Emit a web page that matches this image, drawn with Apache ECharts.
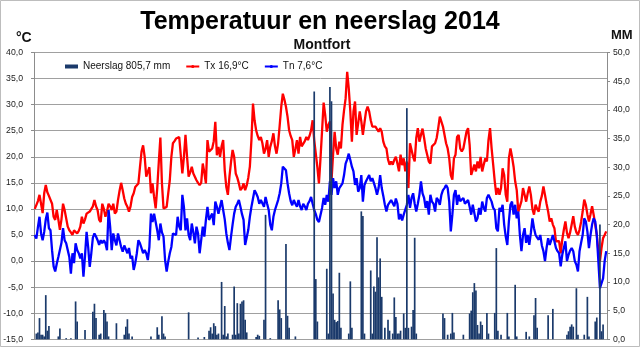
<!DOCTYPE html>
<html><head><meta charset="utf-8">
<script src="https://cdn.jsdelivr.net/npm/echarts@6/dist/echarts.min.js"></script>
<style>html,body{margin:0;padding:0;background:#fff}#c{width:640px;height:347px}</style>
</head><body><div id="c"></div>
<script>
// Daily maximum temperature (°C), per month
const txJan=[10.0,10.2,11.5,12.7,11.0,9.2,13.0,14.6,13.2,12.5,12.3,11.0,8.5,7.9,9.8,8.0,6.0,8.0,11.0,9.8,9.5,6.6,5.9,5.5,5.0,5.9,6.0,5.3,5.8,6.6,8.5];
const txFeb=[7.2,8.0,9.1,8.8,9.5,9.8,10.5,11.7,10.5,9.8,7.9,7.5,11.0,10.0,8.5,9.5,11.0,10.5,9.8,11.0,9.1,9.5,11.7,13.5,15.0,13.6,12.0,11.0];
const txMar=[10.4,9.5,10.5,12.3,13.0,14.2,14.5,14.9,18.0,21.0,22.2,20.0,16.2,17.1,18.0,13.0,14.9,12.3,10.1,14.0,19.0,23.7,14.9,10.1,10.4,10.4,13.0,15.5,20.0,22.6,23.0];
const txApr=[23.5,23.5,23.8,23.8,16.8,20.0,24.2,20.0,16.2,17.0,18.1,16.8,17.0,15.5,15.0,14.6,15.0,18.7,17.0,14.9,23.2,21.0,21.3,21.6,23.0,26.7,20.3,21.9,20.0,22.0];
const txMay=[23.2,17.4,14.2,12.7,16.2,19.0,21.3,20.0,16.8,16.0,14.9,13.6,14.0,14.9,13.6,14.5,16.0,18.1,23.2,30.2,27.0,25.1,24.0,23.2,23.8,22.6,20.6,21.5,23.2,20.0,21.9];
const txJun=[23.0,24.5,22.0,20.6,22.6,26.0,29.6,32.1,31.0,29.6,27.7,25.1,24.0,23.2,20.0,21.5,23.2,20.6,23.8,22.0,21.9,23.0,23.8,23.2,24.0,25.1,27.0,23.2,20.6,18.0];
const txJul=[14.9,19.7,25.0,30.4,28.0,24.8,26.1,26.8,15.3,20.4,24.8,21.6,20.4,22.9,21.6,26.1,28.9,31.2,36.3,33.1,28.7,22.9,28.7,30.6,24.2,26.4,28.7,26.8,24.2,26.5,28.7];
const txAug=[29.6,28.7,27.0,25.8,25.5,25.8,25.5,24.8,25.5,24.8,22.9,22.0,21.6,19.5,18.5,19.1,18.5,19.4,20.0,18.7,17.2,20.4,18.4,19.7,17.2,19.1,14.0,22.6,22.3,20.0,19.1];
const txSep=[23.6,25.5,22.9,24.2,25.4,23.6,21.6,21.3,19.1,18.7,22.0,22.3,22.6,23.6,25.5,27.7,28.0,25.8,25.5,22.6,21.6,19.7,16.5,15.6,19.7,20.4,23.8,24.2,21.6,21.0];
const txOct=[21.6,21.9,24.8,25.5,22.3,16.5,16.5,18.5,17.2,19.1,17.8,20.0,17.2,18.5,19.7,19.1,23.2,25.5,21.6,18.5,15.3,12.7,14.0,12.7,14.0,17.8,16.5,12.7,11.4,19.7,21.6];
const txNov=[20.0,18.1,15.3,13.6,9.5,9.2,11.5,14.0,12.7,11.4,13.0,14.3,12.7,10.0,8.9,10.8,10.0,9.5,11.4,12.5,14.3,12.7,11.0,9.5,7.6,8.2,7.0,6.3,3.8,4.0];
const txDec=[3.8,1.5,4.1,6.0,7.6,5.4,4.4,5.5,7.0,8.6,6.6,5.5,5.0,6.0,7.5,9.5,11.8,10.8,9.0,7.6,9.0,10.5,8.9,7.0,5.0,1.9,0.0,2.5,4.4,5.0,5.7];

// Daily minimum temperature (°C), per month
const tnJan=[5.0,4.3,6.5,8.5,5.3,4.0,5.6,8.0,9.3,6.3,5.9,2.1,-1.0,-2.0,-0.5,0.8,1.0,3.5,6.3,4.0,3.4,2.1,0.8,-2.4,1.5,-0.4,3.4,2.1,1.5,0.5,1.5];
const tnFeb=[-3.0,1.0,5.6,2.7,-1.1,1.5,4.5,5.3,4.7,4.0,3.1,4.0,3.4,4.0,3.4,2.1,9.8,6.6,2.1,5.3,4.0,3.0,5.3,4.0,2.7,1.8,3.0,2.7];
const tnMar=[1.5,2.5,0.5,1.0,-1.7,-0.4,1.5,4.0,3.4,2.5,1.5,2.1,1.5,0.2,2.7,9.1,7.5,9.1,7.5,5.9,4.0,7.2,5.5,4.7,0.2,-2.0,-0.1,1.5,2.7,5.3,5.3];
const tnApr=[5.0,8.5,6.6,5.9,12.7,10.4,5.9,8.2,5.0,4.0,7.2,5.5,3.4,6.6,5.3,1.5,1.2,6.6,4.7,7.9,10.4,7.9,8.5,9.1,6.9,11.4,10.4,9.1,10.4,11.7];
const tnMay=[9.8,8.0,5.3,3.5,2.1,4.7,7.0,9.1,10.4,11.0,11.7,10.4,9.0,7.9,3.1,3.4,6.0,8.5,10.4,12.0,13.6,13.0,12.3,11.0,11.7,11.7,10.4,12.3,11.0,9.8,7.0];
const tnJun=[5.9,8.5,9.8,9.8,11.7,13.0,14.9,18.1,17.8,17.4,14.9,13.0,11.5,10.7,11.7,11.0,10.4,11.7,10.5,9.8,11.0,10.5,9.8,11.0,11.5,12.3,11.0,9.8,9.0,7.9];
const tnJul=[7.5,7.2,10.2,12.1,10.8,12.7,11.4,15.3,12.7,15.9,14.0,15.3,12.7,14.0,14.2,14.9,16.5,18.7,19.5,20.6,19.4,18.1,17.2,14.6,15.9,13.3,14.0,16.5,11.4,14.6,15.3];
const tnAug=[15.3,16.5,15.3,15.9,15.0,14.0,12.7,14.0,16.5,14.0,12.5,10.8,9.5,10.8,11.0,11.7,11.4,10.5,12.0,11.0,8.0,9.0,7.8,8.9,9.1,10.8,12.7,10.2,12.1,13.0,11.0];
const tnSep=[9.5,11.0,12.7,15.3,13.0,12.1,10.2,11.5,8.9,12.7,11.4,11.0,9.5,12.1,11.7,10.8,12.7,13.6,14.0,14.6,14.0,11.4,5.7,8.9,12.7,13.6,10.8,12.7,11.5,11.4];
const tnOct=[12.1,11.0,10.8,11.7,10.4,8.9,10.8,11.0,7.6,8.2,10.2,8.9,11.4,10.2,9.5,12.1,12.7,13.0,11.4,10.2,9.8,6.3,5.7,10.2,9.5,10.8,7.0,4.7,3.1,7.6,10.8];
const tnNov=[11.4,8.9,10.8,8.2,9.5,5.0,1.9,5.0,6.3,3.5,5.0,3.1,5.4,8.2,6.3,5.0,4.5,4.1,5.0,3.0,1.9,0.0,2.5,4.4,3.1,4.0,5.0,3.8,2.5,1.9];
const tnDec=[1.5,-1.0,1.2,2.5,3.8,0.0,1.2,2.0,2.5,1.9,0.0,-0.7,-2.0,1.9,3.5,5.0,8.2,7.6,5.7,2.5,5.0,7.0,8.2,7.6,5.0,0.0,-5.2,-4.9,-3.3,0.0,1.9];

// Daily precipitation (mm), per month
const rrJan=[0,1.0,1.2,3.7,0.8,0.8,0.5,7.7,1.5,2.3,0,0,0,0,0,0.5,1.9,0,0,0,0.2,0,0,0.2,0,0,6.6,3.1,0,0,0];
const rrFeb=[0,1.6,0,0,0,0,4.8,6.2,3.7,0,0.8,1.0,0,5.1,4.6,3.1,0.5,0,0,0,0,2.8,0,0,0,0,0.8,2.2];
const rrMar=[3.5,1.0,0,0.5,0,0,0,0,0,0,0,0,0,0,0,0.5,0,0,0,2.1,0.8,0,4.0,1.0,0.5,0,0,0,0,0,0];
const rrApr=[0,0,0,0,0,0,0,0,4.7,0,0,0,0,0,0.3,0,0,0,0.4,0,0,1.5,2.1,1.0,2.8,2.3,0.8,1.0,0,10.0];
const rrMay=[0.8,5.8,0.5,1.0,0,0,0.8,9.2,0.8,6.3,1.0,6.2,6.6,6.8,3.4,1.2,0,0,0,0,0,0.4,0.8,0.6,0,0,3.4,21.7,0,0,0.2];
const rrJun=[0,0,0,0,6.8,5.2,3.7,0,0,16.6,4.1,2.0,0,0,0,0.5,0,0,0,0,0,0,0,0,0,0,0,43.2,10.5,3.1];
const rrJul=[0,0,0,0,0,12.3,1.0,44.0,41.5,8.0,3.4,3.0,3.2,11.6,2.0,0,0,0,0,1.0,10.1,2.0,0,0,0,0,0,22.3,21.5,1.0,0];
const rrAug=[0,0,12.0,1.0,9.2,8.3,17.8,10.8,14.1,7.4,0,2.0,0,3.4,1.5,0,1.0,7.3,3.9,1.0,1.0,1.5,0,4.5,2.0,40.3,2.0,0,2.2,5.1,17.7];
const rrSep=[1.0,0,0,0,0,0,0,0,0,0,0,0,0,0,0,0,0,4.5,3.7,0,0.8,0,1.0,4.6,1.2,0,0,0,0,0];
const rrOct=[0.8,0,0,0,4.5,5.0,8.2,9.8,8.5,2.5,1.0,3.1,2.5,0,0,4.6,1.0,0,0,0,4.6,15.9,1.5,0,0.8,0,0,0,4.6,0.5,0];
const rrNov=[0,0,9.5,0.5,0,0,0,0,0,1.3,0,0.5,0,0,4.2,7.2,2.0,0,0,0,0,0,0,4.2,0,0,5.3,0,0,0];
const rrDec=[0,0,0,0,0,0.8,1.4,2.2,2.6,2.2,0,8.9,0.8,0,0,0,0.8,0,7.4,0.5,0,0,0,3.1,3.8,0,20.0,1.4,2.6,0,0];

const seriesNames=['Neerslag 805,7 mm','Tx 16,9°C','Tn 7,6°C'];
const titleText='Temperatuur en neerslag 2014';
const subtitleText='Montfort';

const tx=[].concat(txJan,txFeb,txMar,txApr,txMay,txJun,txJul,txAug,txSep,txOct,txNov,txDec);
const tn=[].concat(tnJan,tnFeb,tnMar,tnApr,tnMay,tnJun,tnJul,tnAug,tnSep,tnOct,tnNov,tnDec);
const rr=[].concat(rrJan,rrFeb,rrMar,rrApr,rrMay,rrJun,rrJul,rrAug,rrSep,rrOct,rrNov,rrDec);
const days=[];
for(let i=0;i<365;i++){const d=new Date(Date.UTC(2014,0,1+i));days.push(d.toISOString().slice(0,10));}

const fmt=v=>v.toFixed(1).replace('.',',');
const FONT='"Liberation Sans", Arial, sans-serif';
const axisGray='#8c8c8c';

const chart=echarts.init(document.getElementById('c'),null,{renderer:'canvas'});
chart.setOption({
  animation:false,
  backgroundColor:'#ffffff',
  grid:{left:34,right:33,top:52.5,height:286.8},
  legend:{
    left:65,top:61.5,padding:0,itemWidth:13,itemHeight:4,itemGap:15,
    textStyle:{fontFamily:FONT,fontSize:10,color:'#111'},
    data:[{name:seriesNames[0],icon:'rect'},{name:seriesNames[1]},{name:seriesNames[2]}]
  },
  xAxis:{type:'category',data:days,boundaryGap:true,
    axisLabel:{show:false},axisTick:{show:false},
    axisLine:{show:true,lineStyle:{color:axisGray}},splitLine:{show:false}},
  yAxis:[
    {type:'value',min:-15,max:40,interval:5,position:'left',
     axisLine:{show:true,lineStyle:{color:axisGray}},
     axisTick:{show:true,length:3,lineStyle:{color:axisGray}},
     splitLine:{show:true,lineStyle:{color:'#a0a0a0',width:1}},
     axisLabel:{formatter:fmt,fontFamily:FONT,fontSize:8.7,color:'#1a1a1a',margin:11}},
    {type:'value',min:0,max:50,interval:5,position:'right',
     axisLine:{show:true,lineStyle:{color:axisGray}},
     axisTick:{show:true,length:3,lineStyle:{color:axisGray}},
     splitLine:{show:false},
     axisLabel:{formatter:fmt,fontFamily:FONT,fontSize:8.7,color:'#1a1a1a',margin:6}}
  ],
  series:[
    {name:seriesNames[0],type:'bar',yAxisIndex:1,data:rr,barWidth:1.7,
     itemStyle:{color:'#1b3a6b'},z:3},
    {name:seriesNames[1],type:'line',yAxisIndex:0,data:tx,symbol:'none',
     lineStyle:{color:'#ff0000',width:2.3},itemStyle:{color:'#ff0000'},z:2},
    {name:seriesNames[2],type:'line',yAxisIndex:0,data:tn,symbol:'none',
     lineStyle:{color:'#0000ff',width:2.3},itemStyle:{color:'#0000ff'},z:2}
  ],
  graphic:[
    {type:'rect',shape:{x:0.5,y:0.5,width:639,height:346},style:{fill:'none',stroke:'#bdbdbd',lineWidth:1},silent:true,z:0},
    {type:'text',style:{text:titleText,x:320,y:22,textAlign:'center',textVerticalAlign:'middle',font:'bold 25px '+FONT,fill:'#000'}},
    {type:'text',style:{text:subtitleText,x:322,y:45.5,textAlign:'center',textVerticalAlign:'middle',font:'bold 14px '+FONT,fill:'#111'}},
    {type:'text',style:{text:'°C',x:16,y:38.5,textAlign:'left',textVerticalAlign:'middle',font:'bold 14px '+FONT,fill:'#111'}},
    {type:'text',style:{text:'MM',x:611,y:35.5,textAlign:'left',textVerticalAlign:'middle',font:'bold 13px '+FONT,fill:'#111'}}
  ]
});
</script></body></html>
